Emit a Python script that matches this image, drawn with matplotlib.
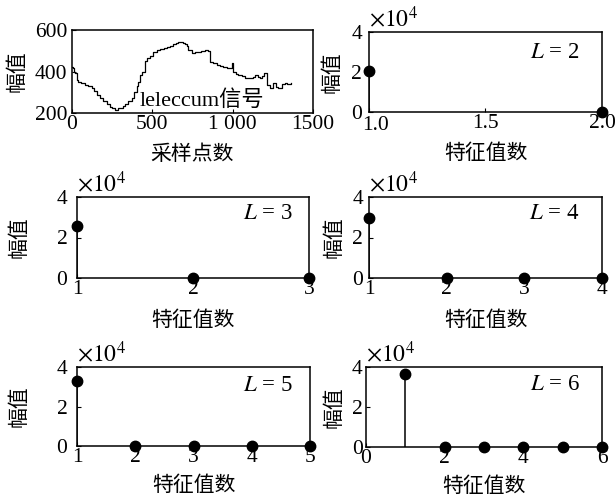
import numpy as np
import matplotlib
matplotlib.use('Agg')
import matplotlib.pyplot as plt
from matplotlib.ticker import FuncFormatter

plt.rcParams['font.family'] = ['Liberation Serif', 'Noto Sans CJK SC']
plt.rcParams['mathtext.fontset'] = 'stix'
plt.rcParams['font.size'] = 15.5
plt.rcParams['axes.labelsize'] = 15
plt.rcParams['axes.linewidth'] = 1.1
plt.rcParams['xtick.direction'] = 'in'
plt.rcParams['ytick.direction'] = 'in'
plt.rcParams['xtick.major.size'] = 3
plt.rcParams['ytick.major.size'] = 3
plt.rcParams['xtick.major.pad'] = 1.5
plt.rcParams['ytick.major.pad'] = 2.5

# leleccum signal
sig_x = [0, 4, 12, 19, 29, 39, 55, 70, 81, 100, 112, 122, 133, 140, 153, 175, 195, 215, 236, 252,
         268, 285, 299, 315, 330, 350, 371, 388, 402, 413, 423, 434, 454, 465, 485, 506, 528,
         548, 570, 589, 610, 631, 648, 661, 680, 693, 703, 714, 724, 745, 765, 786, 806, 828,
         848, 859, 880, 900, 920, 942, 962, 983, 994, 1004, 1020, 1035, 1056, 1077, 1092,
         1108, 1124, 1139, 1155, 1170, 1185, 1197, 1212, 1232, 1253, 1268, 1284, 1305,
         1325, 1340, 1360]
sig_y = [420, 418, 400, 391, 361, 351, 345, 345, 335, 329, 329, 319, 320, 305, 288, 272, 257, 242,
         227, 222, 216, 222, 224, 236, 243, 258, 272, 300, 329, 350, 385, 399, 449, 464, 473,
         495, 503, 508, 514, 520, 525, 531, 538, 544, 540, 536, 531, 522, 504, 488, 492, 495,
         500, 504, 499, 447, 440, 431, 428, 423, 418, 415, 439, 399, 390, 383, 376, 370, 368,
         367, 375, 383, 372, 367, 380, 391, 335, 319, 343, 325, 319, 338, 343, 340, 343]

# feature values per window length L
eig_L2 = [20500, 0]
eig_L3 = [25700, 0, 0]
eig_L4 = [29800, 0, 0, 0]
eig_L5 = [32900, 0, 0, 0, 0]
eig_L6 = [36300, 0, 0, 0, 0, 0]

W, H = 615, 497
fig = plt.figure(figsize=(W / 100, H / 100), dpi=100)


def box(l, r, t, b):
    return [l / W, (H - b) / H, (r - l) / W, (b - t) / H]


def fmt_thousands(v, pos):
    v = int(round(v))
    if v == 1000:
        return '1 000'
    return str(v)


# signal panel
ax = fig.add_axes(box(72, 313, 30, 113))
ax.plot(sig_x, sig_y, color='k', lw=0.9, drawstyle='steps-post')
ax.set_xlim(0, 1500)
ax.set_ylim(200, 600)
ax.set_xticks([0, 500, 1000, 1500])
ax.set_yticks([200, 400, 600])
ax.tick_params(axis='y', pad=3.5)
ax.xaxis.set_major_formatter(FuncFormatter(fmt_thousands))
ax.set_xlabel('采样点数', labelpad=8)
ax.set_ylabel('幅值')
ax.yaxis.set_label_coords(-0.183, 0.5)
ax.text(423, 258, 'leleccum信号', fontsize=16, va='center')

panels = [
    (eig_L2, box(369, 602, 32, 112), 2, [1.0, 2.0], [1.0, 1.5, 2.0], (0.905, 0.75), -0.112, 8.5, 5),
    (eig_L3, box(77, 309, 197, 278), 3, [1, 3], [1, 2, 3], (0.93, 0.80), -0.203, 9, 7),
    (eig_L4, box(369, 602, 197, 278), 4, [1, 4], [1, 2, 3, 4], (0.905, 0.80), -0.103, 9, 4.3),
    (eig_L5, box(77, 310, 367, 446), 5, [1, 5], [1, 2, 3, 4, 5], (0.927, 0.77), -0.202, 7, 7),
    (eig_L6, box(366, 602, 367, 447), 6, [0, 6], [0, 2, 4, 6], (0.907, 0.775), -0.089, 7, 2.5),
]

for vals, pos, L, xl, xt, tpos, ylx, lp, yp in panels:
    ax = fig.add_axes(pos)
    x = np.arange(1, len(vals) + 1)
    ml, sl, bl = ax.stem(x, vals, linefmt='k-', markerfmt='ko', basefmt=' ')
    ml.set_markersize(7.5)
    ml.set_clip_on(False)
    sl.set_linewidth(1.1)
    ax.set_xlim(*xl)
    ax.set_ylim(0, 40000)
    ax.set_xticks(xt)
    ax.set_yticks([0, 20000, 40000])
    ax.tick_params(axis='y', pad=yp)
    ax.yaxis.set_major_formatter(FuncFormatter(lambda v, p: '%d' % round(v / 10000)))
    if L == 2:
        # first label sits a little to the right, clear of the y-axis "0"
        x0 = xt[0]
        ax.xaxis.set_major_formatter(FuncFormatter(lambda v, p, x0=x0: '' if v == x0 else '%.1f' % v))
        ax.annotate('%.1f' % x0, xy=(x0, 0), xycoords=('data', 'axes fraction'),
                    xytext=(5, -2.6), textcoords='offset points', ha='center', va='top')
    ax.set_xlabel('特征值数', labelpad=lp)
    ax.set_ylabel('幅值')
    ax.yaxis.set_label_coords(ylx, 0.5)
    ax.text(0.0, 1.01, r'$\times10^4$', transform=ax.transAxes, fontsize=17, va='bottom', ha='left')
    ax.text(tpos[0], tpos[1], r'$L$ = %d' % L, transform=ax.transAxes, fontsize=16.5,
            ha='right', va='center')

fig.savefig('out.png', dpi=100)
